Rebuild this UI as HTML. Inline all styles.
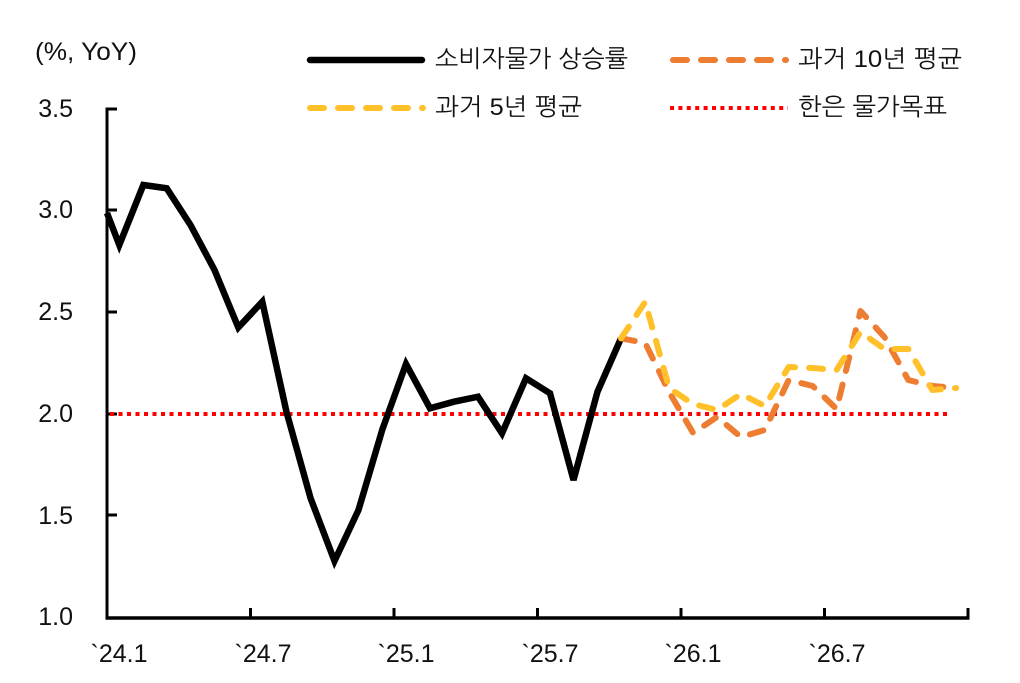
<!DOCTYPE html>
<html>
<head>
<meta charset="utf-8">
<style>
  html, body { margin: 0; padding: 0; background: #ffffff; }
  body { width: 1020px; height: 683px; overflow: hidden; }
  svg { display: block; }
  .num { font-family: "Liberation Sans", "Noto Sans CJK KR", sans-serif; font-size: 25px; fill: #111; }
  .kr { font-family: "Liberation Sans", "NanumGothic", "Noto Sans CJK KR", sans-serif; font-size: 24px; fill: #111; }
</style>
</head>
<body>
<svg width="1020" height="683" viewBox="0 0 1020 683" xmlns="http://www.w3.org/2000/svg">
  <rect x="0" y="0" width="1020" height="683" fill="#ffffff"/>

  <!-- unit label -->
  <text class="num" x="35" y="60" textLength="102" lengthAdjust="spacingAndGlyphs">(%, YoY)</text>

  <!-- y labels -->
  <g class="num" text-anchor="end">
    <text x="73" y="117">3.5</text>
    <text x="73" y="218">3.0</text>
    <text x="73" y="320">2.5</text>
    <text x="73" y="422">2.0</text>
    <text x="73" y="524">1.5</text>
    <text x="73" y="625">1.0</text>
  </g>

  <!-- x labels -->
  <g class="num" text-anchor="middle">
    <text x="119" y="662">`24.1</text>
    <text x="263" y="662">`24.7</text>
    <text x="406" y="662">`25.1</text>
    <text x="550" y="662">`25.7</text>
    <text x="693" y="662">`26.1</text>
    <text x="837" y="662">`26.7</text>
  </g>

  <!-- axes -->
  <g stroke="#000" fill="none">
    <line x1="107" y1="107.5" x2="107" y2="619" stroke-width="3"/>
    <line x1="105.5" y1="618" x2="969.5" y2="618" stroke-width="3.5"/>
    <!-- y ticks -->
    <line x1="107" y1="109" x2="117" y2="109" stroke-width="3"/>
    <line x1="107" y1="210" x2="117" y2="210" stroke-width="3"/>
    <line x1="107" y1="312" x2="117" y2="312" stroke-width="3"/>
    <line x1="107" y1="414" x2="117" y2="414" stroke-width="3"/>
    <line x1="107" y1="515" x2="117" y2="515" stroke-width="3"/>
    <!-- x ticks -->
    <line x1="250.5" y1="608" x2="250.5" y2="618" stroke-width="3"/>
    <line x1="394" y1="608" x2="394" y2="618" stroke-width="3"/>
    <line x1="537.5" y1="608" x2="537.5" y2="618" stroke-width="3"/>
    <line x1="681" y1="608" x2="681" y2="618" stroke-width="3"/>
    <line x1="824.5" y1="608" x2="824.5" y2="618" stroke-width="3"/>
    <line x1="968" y1="608" x2="968" y2="618" stroke-width="3"/>
  </g>

  <!-- BOK target (red dotted) -->
  <line x1="110" y1="414" x2="950" y2="414" stroke="#ff0000" stroke-width="4" stroke-dasharray="4 4.5"/>

  <!-- CPI black line -->
  <polyline fill="none" stroke="#000" stroke-width="6.5" stroke-linejoin="miter" stroke-miterlimit="3"
    points="107,213 119.3,245 143.3,185 166.7,188.3 190.5,225 214.5,270 238.3,327.5 262.3,301.7 286.5,412 310.5,498 334.5,561 358.5,510 382.5,429 406,364 430,408.3 454,401.7 478,396.7 502,433.3 526,378.3 550,393.3 573.5,480 597.5,391.7 621,338.3"/>

  <!-- 10-year avg (orange dashed) -->
  <polyline fill="none" stroke="#ed7d31" stroke-width="6" stroke-linecap="round" stroke-linejoin="round" stroke-dasharray="14 14"
    points="621,338.3 645.2,343 669.1,392 693.1,433 717,417 740.9,437 764.8,430 788.7,380 812.7,386 836.6,409 860.5,311 884.4,337 908.3,380 932.3,386 956.2,388"/>

  <!-- 5-year avg (yellow dashed) -->
  <polyline fill="none" stroke="#ffc02a" stroke-width="6" stroke-linecap="round" stroke-linejoin="round" stroke-dasharray="14 14"
    points="621,338.3 645.2,302 669.1,388 693.1,404 717,410 740.9,394 764.8,406 788.7,367 812.7,368 836.6,370 860.5,332 884.4,349 908.3,349 932.3,390 956.2,388"/>

  <!-- legend -->
  <line x1="310" y1="60" x2="422" y2="60" stroke="#000" stroke-width="6.5" stroke-linecap="round"/>
  <text class="kr" x="435" y="67" textLength="193" lengthAdjust="spacingAndGlyphs">소비자물가 상승률</text>

  <line x1="673" y1="60" x2="786" y2="60" stroke="#ed7d31" stroke-width="6" stroke-linecap="round" stroke-dasharray="14 14"/>
  <text class="kr" x="798" y="67" textLength="164" lengthAdjust="spacingAndGlyphs">과거 10년 평균</text>

  <line x1="310" y1="108" x2="423" y2="108" stroke="#ffc02a" stroke-width="6" stroke-linecap="round" stroke-dasharray="14 14"/>
  <text class="kr" x="435" y="115" textLength="147" lengthAdjust="spacingAndGlyphs">과거 5년 평균</text>

  <line x1="670" y1="108" x2="788" y2="108" stroke="#ff0000" stroke-width="4" stroke-dasharray="4 4.4"/>
  <text class="kr" x="798" y="115" textLength="149" lengthAdjust="spacingAndGlyphs">한은 물가목표</text>
</svg>
</body>
</html>
